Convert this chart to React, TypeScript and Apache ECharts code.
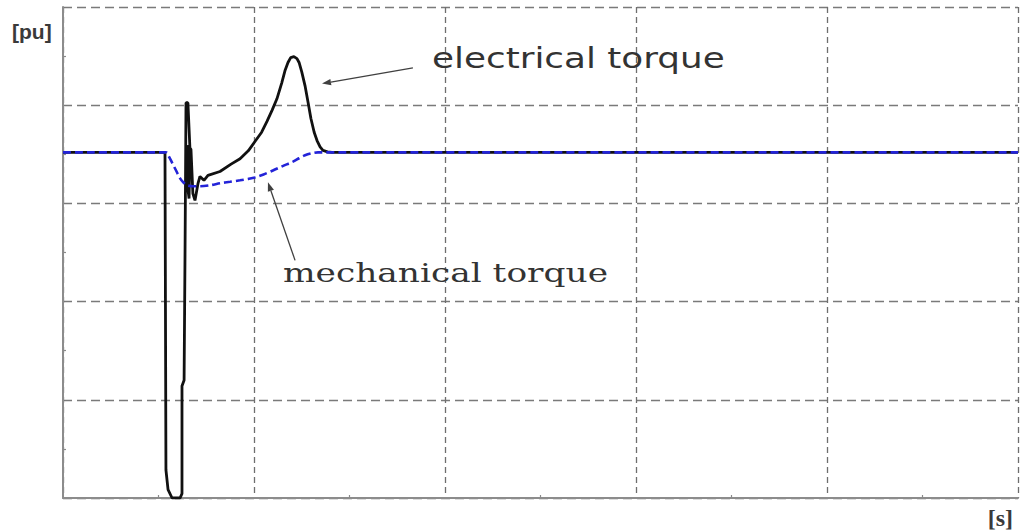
import React, { useEffect, useRef } from "react";
import * as echarts from "echarts";

// time [s] and torque [pu]
const elecTime = [0, 0.534, 0.539, 0.55, 0.571, 0.613, 0.623, 0.623, 0.634, 0.639, 0.644, 0.654, 0.665, 0.66, 0.649, 0.654, 0.67, 0.68, 0.691, 0.707, 0.717, 0.738, 0.759, 0.822, 0.88, 0.927, 0.97, 1.005, 1.04, 1.068, 1.095, 1.12, 1.145, 1.162, 1.178, 1.192, 1.209, 1.225, 1.236, 1.25, 1.267, 1.283, 1.298, 1.315, 1.33, 1.346, 1.361, 1.385, 1.408, 5];
const elecTorque = [1.04, 1.04, -5.43, -5.83, -6.0, -6.0, -5.91, -3.72, -3.6, -0.96, 2.05, 2.05, 1.08, 0.1, 0.45, 1.18, 1.1, 0.2, 0.06, 0.41, 0.55, 0.47, 0.57, 0.65, 0.8, 0.91, 1.07, 1.26, 1.45, 1.67, 1.9, 2.13, 2.45, 2.7, 2.87, 2.97, 2.99, 2.95, 2.87, 2.68, 2.4, 2.06, 1.73, 1.45, 1.28, 1.15, 1.08, 1.05, 1.04, 1.04];
const mechTime = [0, 0.539, 0.555, 0.571, 0.592, 0.613, 0.632, 0.649, 0.68, 0.717, 0.77, 0.822, 0.875, 0.927, 0.97, 1.005, 1.05, 1.099, 1.15, 1.204, 1.236, 1.267, 1.3, 1.335, 5];
const mechTorque = [1.04, 1.04, 0.95, 0.83, 0.67, 0.51, 0.42, 0.37, 0.35, 0.35, 0.37, 0.41, 0.44, 0.47, 0.5, 0.53, 0.59, 0.67, 0.76, 0.85, 0.92, 0.98, 1.02, 1.04, 1.04];

const xMin = 0;
const xMax = 5;
const xInterval = 1;
const yMin = -6;
const yMax = 4;
const yInterval = 2;

const elecLabel = "electrical torque";
const mechLabel = "mechanical torque";
const yUnit = "[pu]";
const xUnit = "[s]";

// annotation anchors in data coordinates: [text-left, text-middle], arrow tail, arrow tip
const elecAnno = { text: [1.932, 2.95], tail: [1.832, 2.76], tip: [1.356, 2.44], width: 293 };
const mechAnno = { text: [1.152, -1.42], tail: [1.215, -1.16], tip: [1.073, 0.43], width: 325 };

function zip(xs: number[], ys: number[]) {
  return xs.map((x, i) => [x, ys[i]]);
}

function measure(text: string, font: string) {
  const c = document.createElement("canvas").getContext("2d");
  if (!c) return text.length * 10;
  c.font = font;
  return c.measureText(text).width;
}

function arrow(chart: any, tail: number[], tip: number[]) {
  const a = chart.convertToPixel({ gridIndex: 0 }, tail);
  const b = chart.convertToPixel({ gridIndex: 0 }, tip);
  const dx = b[0] - a[0];
  const dy = b[1] - a[1];
  const len = Math.sqrt(dx * dx + dy * dy);
  const ux = dx / len;
  const uy = dy / len;
  const hl = 9;
  const hw = 3.2;
  const bx = b[0] - ux * hl;
  const by = b[1] - uy * hl;
  return [
    {
      type: "line",
      shape: { x1: a[0], y1: a[1], x2: bx, y2: by },
      style: { stroke: "#404040", lineWidth: 1.3 },
      z: 10,
    },
    {
      type: "polygon",
      shape: {
        points: [
          [b[0], b[1]],
          [bx - uy * hw, by + ux * hw],
          [bx + uy * hw, by - ux * hw],
        ],
      },
      style: { fill: "#404040" },
      z: 10,
    },
  ];
}

export default function App() {
  const ref = useRef<HTMLDivElement>(null);
  useEffect(() => {
    if (!ref.current) return;
    const chart = echarts.init(ref.current, undefined, { renderer: "svg" });
    const axisCommon = {
      axisLabel: { show: false },
      axisTick: { show: false, inside: true },
      minorTick: { show: true, splitNumber: 2, length: 3, lineStyle: { color: "#8a8a8a", width: 1.2 } },
      axisLine: { show: true, onZero: false, lineStyle: { color: "#8c8c8c", width: 2 } },
    };
    chart.setOption({
      animation: false,
      backgroundColor: "#ffffff",
      grid: { left: 63, right: 2, top: 7, bottom: 33, containLabel: false },
      xAxis: {
        type: "value",
        min: xMin,
        max: xMax,
        interval: xInterval,
        ...axisCommon,
        splitLine: { show: true, showMaxLine: true, lineStyle: { color: "#6e6e6e", width: 1.3, type: [6, 4] } },
      },
      yAxis: {
        type: "value",
        min: yMin,
        max: yMax,
        interval: yInterval,
        ...axisCommon,
        splitLine: { show: true, showMaxLine: true, lineStyle: { color: "#7a7a7a", width: 1.3, type: [9, 5] } },
      },
      series: [
        {
          type: "line",
          name: elecLabel,
          data: zip(elecTime, elecTorque),
          showSymbol: false,
          symbol: "none",
          lineStyle: { color: "#111111", width: 2.8 },
          z: 3,
        },
        {
          type: "line",
          name: mechLabel,
          data: zip(mechTime, mechTorque),
          showSymbol: false,
          symbol: "none",
          smooth: 0.3,
          lineStyle: { color: "#2323d8", width: 2.6, type: [8, 4] },
          z: 4,
        },
      ],
    });

    const elecFont = 28;
    const elecFamily = "DejaVu Sans";
    const elecW = measure(elecLabel, `${elecFont}px "${elecFamily}"`);
    const mechFont = 26;
    const mechFamily = "DejaVu Serif";
    const mechW = measure(mechLabel, `${mechFont}px "${mechFamily}"`);

    const ep = chart.convertToPixel({ gridIndex: 0 }, elecAnno.text);
    const mp = chart.convertToPixel({ gridIndex: 0 }, mechAnno.text);

    chart.setOption({
      graphic: [
        {
          type: "text",
          x: ep[0],
          y: ep[1],
          scaleX: elecAnno.width / elecW,
          style: {
            text: elecLabel,
            font: `${elecFont}px "${elecFamily}"`,
            fill: "#333333",
            verticalAlign: "middle",
            align: "left",
          },
          z: 10,
        },
        {
          type: "text",
          x: mp[0],
          y: mp[1],
          scaleX: mechAnno.width / mechW,
          style: {
            text: mechLabel,
            font: `${mechFont}px "${mechFamily}"`,
            fill: "#333333",
            verticalAlign: "middle",
            align: "left",
          },
          z: 10,
        },
        ...arrow(chart, elecAnno.tail, elecAnno.tip),
        ...arrow(chart, mechAnno.tail, mechAnno.tip),
        {
          type: "text",
          x: 12,
          y: 31,
          style: {
            text: yUnit,
            font: 'bold 21px "Liberation Sans"',
            fill: "#3a3a3a",
            verticalAlign: "middle",
            align: "left",
          },
        },
        {
          type: "text",
          x: 1013,
          y: 518,
          style: {
            text: xUnit,
            font: 'bold 24px "Liberation Serif"',
            fill: "#3a3a3a",
            verticalAlign: "middle",
            align: "right",
          },
        },
      ],
    });
    return () => chart.dispose();
  }, []);
  return (
    <div
      ref={ref}
      style={{ position: "absolute", left: 0, top: 0, width: 1020, height: 531 }}
    />
  );
}
